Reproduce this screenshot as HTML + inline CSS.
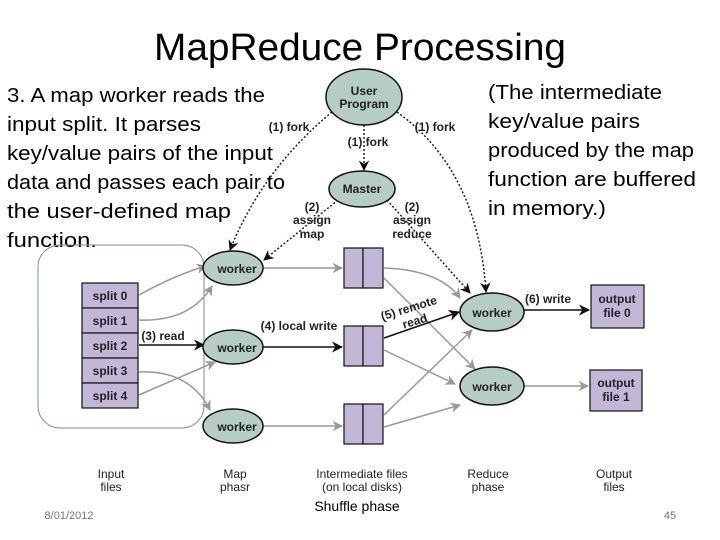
<!DOCTYPE html>
<html><head><style>
html,body{margin:0;padding:0;background:#fff;}
svg{display:block;}
.c{font-family:"Liberation Sans",sans-serif;}
.n{font-family:"Liberation Sans Narrow","Liberation Sans",sans-serif;font-weight:bold;fill:#222;}
</style></head><body>
<svg width="720" height="540" viewBox="0 0 720 540" xmlns="http://www.w3.org/2000/svg">
<defs>
<marker id="ab" viewBox="0 0 10 10" refX="9" refY="5" markerWidth="7" markerHeight="7" orient="auto"><path d="M0,0 L10,5 L0,10 L3,5z" fill="#111"/></marker>
<marker id="ag" viewBox="0 0 10 10" refX="9" refY="5" markerWidth="7" markerHeight="7" orient="auto"><path d="M0,0 L10,5 L0,10 L3,5z" fill="#999"/></marker>
</defs>
<text class="c" x="360" y="60" font-size="38" text-anchor="middle" textLength="412" lengthAdjust="spacingAndGlyphs" fill="#000">MapReduce Processing</text>
<g class="c" font-size="20" fill="#000">
<text x="7" y="102" textLength="258" lengthAdjust="spacingAndGlyphs">3. A map worker reads the</text>
<text x="7" y="131" textLength="194" lengthAdjust="spacingAndGlyphs">input split. It parses</text>
<text x="7" y="160" textLength="266" lengthAdjust="spacingAndGlyphs">key/value pairs of the input</text>
<text x="7" y="189" textLength="278" lengthAdjust="spacingAndGlyphs">data and passes each pair to</text>
<text x="7" y="218" textLength="224" lengthAdjust="spacingAndGlyphs">the user-defined map</text>
<text x="7" y="247" textLength="90" lengthAdjust="spacingAndGlyphs">function.</text>
<text x="488" y="99" textLength="174" lengthAdjust="spacingAndGlyphs">(The intermediate</text>
<text x="488" y="128" textLength="152" lengthAdjust="spacingAndGlyphs">key/value pairs</text>
<text x="488" y="157" textLength="206" lengthAdjust="spacingAndGlyphs">produced by the map</text>
<text x="488" y="186" textLength="208" lengthAdjust="spacingAndGlyphs">function are buffered</text>
<text x="488" y="215" textLength="118" lengthAdjust="spacingAndGlyphs">in memory.)</text>
</g>
<rect x="38" y="245" width="166" height="183" rx="22" fill="none" stroke="#7a8fa0" stroke-width="1"/>
<g fill="none" stroke="#222" stroke-width="1.5" stroke-dasharray="2,2">
<path d="M332,112 Q262,170 230,250" marker-end="url(#ab)"/>
<path d="M364,125 L364,170" marker-end="url(#ab)"/>
<path d="M397,112 Q478,170 486,292" marker-end="url(#ab)"/>
<path d="M338,200 L264,260" marker-end="url(#ab)"/>
<path d="M387,200 L470,293" marker-end="url(#ab)"/>
</g>
<g fill="none" stroke="#999" stroke-width="1.5">
<path d="M139,295 Q175,275 206,266" marker-end="url(#ag)"/>
<path d="M139,320 Q190,322 212,286" marker-end="url(#ag)"/>
<path d="M139,372 Q190,370 210,410" marker-end="url(#ag)"/>
<path d="M139,395 L215,362" marker-end="url(#ag)"/>
<path d="M263,268 L342,268" marker-end="url(#ag)"/>
<path d="M263,426 L342,426" marker-end="url(#ag)"/>
<path d="M384,268 Q440,270 460,298" marker-end="url(#ag)"/>
<path d="M384,278 L475,369" marker-end="url(#ag)"/>
<path d="M384,350 L455,384" marker-end="url(#ag)"/>
<path d="M384,415 L472,330" marker-end="url(#ag)"/>
<path d="M384,427 L460,405" marker-end="url(#ag)"/>
<path d="M524,386 L588,386" marker-end="url(#ag)"/>
</g>
<g fill="none" stroke="#111" stroke-width="1.6">
<path d="M139,345 L204,345" marker-end="url(#ab)"/>
<path d="M263,347 L342,347" marker-end="url(#ab)"/>
<path d="M384,338 L459,312" marker-end="url(#ab)"/>
<path d="M524,310 L589,310" marker-end="url(#ab)"/>
</g>
<g fill="#b5cdc3" stroke="#111" stroke-width="1.5">
<ellipse cx="364" cy="97" rx="38" ry="28"/>
<ellipse cx="362" cy="189" rx="33" ry="18"/>
<ellipse cx="233" cy="268" rx="30" ry="17"/>
<ellipse cx="233" cy="347" rx="30" ry="17"/>
<ellipse cx="233" cy="426" rx="30" ry="17"/>
<ellipse cx="492" cy="312" rx="32" ry="19"/>
<ellipse cx="492" cy="386" rx="32" ry="19"/>
</g>
<g fill="#c3b7d8" stroke="#111" stroke-width="1.2">
<rect x="82" y="283" width="56" height="25"/>
<rect x="82" y="308" width="56" height="25"/>
<rect x="82" y="333" width="56" height="25"/>
<rect x="82" y="358" width="56" height="25"/>
<rect x="82" y="383" width="56" height="25"/>
<rect x="344" y="248" width="19" height="40"/><rect x="363" y="248" width="20" height="40"/>
<rect x="344" y="326" width="19" height="40"/><rect x="363" y="326" width="20" height="40"/>
<rect x="344" y="404" width="19" height="40"/><rect x="363" y="404" width="20" height="40"/>
<rect x="591" y="285" width="53" height="43"/>
<rect x="590" y="370" width="52" height="41"/>
</g>
<g class="n" font-size="12" text-anchor="middle">
<text x="364" y="95">User</text><text x="364" y="108">Program</text>
<text x="362" y="193">Master</text>
<text x="237" y="273">worker</text><text x="237" y="352">worker</text><text x="237" y="431">worker</text>
<text x="492" y="317">worker</text><text x="492" y="391">worker</text>
<text x="110" y="300">split 0</text><text x="110" y="325">split 1</text><text x="110" y="350">split 2</text><text x="110" y="375">split 3</text><text x="110" y="400">split 4</text>
<text x="617" y="303">output</text><text x="617" y="317">file 0</text>
<text x="616" y="387">output</text><text x="616" y="401">file 1</text>
<text x="289" y="131">(1) fork</text><text x="435" y="131">(1) fork</text><text x="368" y="146">(1) fork</text>
<text x="312" y="211">(2)</text><text x="312" y="224">assign</text><text x="312" y="238">map</text>
<text x="412" y="211">(2)</text><text x="412" y="224">assign</text><text x="412" y="238">reduce</text>
<text x="163" y="340">(3) read</text>
<text x="299" y="330">(4) local write</text>
<text x="548" y="303">(6) write</text>
<text x="410" y="312" transform="rotate(-17 410 312)">(5) remote</text>
<text x="416" y="325" transform="rotate(-17 416 325)">read</text>
<g font-weight="normal" fill="#222">
<text x="111" y="478">Input</text><text x="111" y="491">files</text>
<text x="235" y="478">Map</text><text x="235" y="491">phasr</text>
<text x="362" y="478">Intermediate files</text><text x="362" y="491">(on local disks)</text>
<text x="488" y="478">Reduce</text><text x="488" y="491">phase</text>
<text x="614" y="478">Output</text><text x="614" y="491">files</text>
</g>
</g>
<text class="c" x="357" y="511" font-size="14" text-anchor="middle" fill="#000">Shuffle phase</text>
<text class="c" x="69" y="519" font-size="11" text-anchor="middle" fill="#777">8/01/2012</text>
<text class="c" x="670" y="519" font-size="11" text-anchor="middle" fill="#777">45</text>
</svg>
</body></html>
